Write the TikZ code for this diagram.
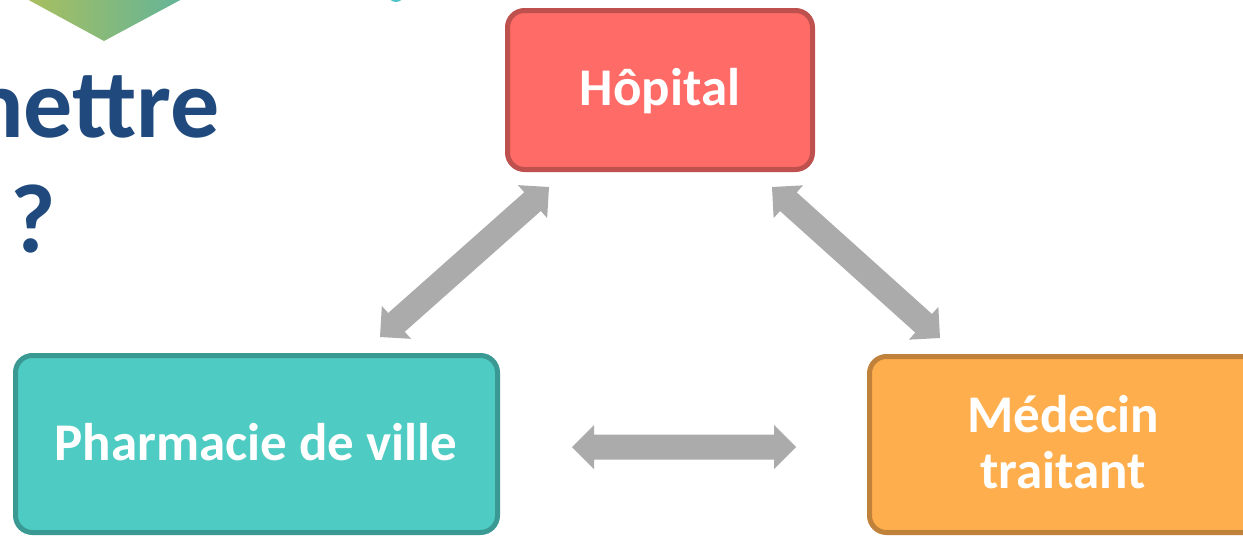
\documentclass[tikz,border=0pt]{standalone}
\usepackage{fontspec}
\setmainfont{Carlito}
\usetikzlibrary{calc}
\definecolor{hopfill}{HTML}{FF6B66}
\definecolor{hopdraw}{HTML}{BE504D}
\definecolor{phfill}{HTML}{4ECBC2}
\definecolor{phdraw}{HTML}{3A9A93}
\definecolor{medfill}{HTML}{FFAE4D}
\definecolor{meddraw}{HTML}{C0813A}
\definecolor{arrowgray}{HTML}{ABABAB}
\definecolor{titleblue}{HTML}{204A7D}
\definecolor{gleft}{HTML}{AABF5E}
\definecolor{gright}{HTML}{62B499}
\definecolor{tealdot}{HTML}{4CC3C8}
\newcommand{\hw}{22pt}
\newcommand{\sw}{12.5pt}
\newcommand{\hl}{22pt}
\newcommand{\dblarrow}[2]{%
  \coordinate (p1) at ($(#1)!\hl!(#2)$);
  \coordinate (p2) at ($(#2)!\hl!(#1)$);
  \fill[conn] (#1) -- ($(p1)!\hw!90:(#2)$) -- ($(p1)!\sw!90:(#2)$)
    -- ($(p2)!\sw!-90:(#1)$) -- ($(p2)!\hw!-90:(#1)$) -- (#2)
    -- ($(p2)!\hw!90:(#1)$) -- ($(p2)!\sw!90:(#1)$)
    -- ($(p1)!\sw!-90:(#2)$) -- ($(p1)!\hw!-90:(#2)$) -- cycle;}
\tikzset{
  box/.style={draw, rectangle, rounded corners=17pt, line width=5pt, inner sep=0pt},
  label/.style={text=white, font=\fontsize{53}{56}\selectfont\bfseries, inner sep=0pt, anchor=base},
  title/.style={text=titleblue, font=\fontsize{98}{110}\selectfont\bfseries, inner sep=0pt},
  conn/.style={fill=arrowgray}
}
\begin{document}
\begin{tikzpicture}[x=1pt,y=-1pt]
\useasboundingbox (0,0) rectangle (1243,536);
\clip (0,0) rectangle (1243,536);
\fill[white] (0,0) rectangle (1243,536);
% decorative top shapes
\shade[left color=gleft, right color=gright] (25,-2) -- (184,-2) -- (104,41) -- cycle;
\fill[tealdot] (396,-6) circle (8);
% title fragments
\node[title, anchor=base east] (t1) at (220,137) {mettre};
\node[title, anchor=base west] (t2) at (10,252) {?};
% boxes
\node[box, fill=hopfill, draw=hopdraw, minimum width=305pt, minimum height=159pt] (hop) at (660,90) {};
\node[box, fill=phfill, draw=phdraw, minimum width=482pt, minimum height=177pt] (pha) at (256.5,444) {};
\node[box, fill=medfill, draw=meddraw, minimum width=430pt, minimum height=176pt] (med) at (1084.5,444.5) {};
% labels
\node[label] (hopt) at (660,105) {Hôpital};
\node[label] (phat) at (256,460) {Pharmacie de ville};
\node[label] (medt1) at (1063,432) {Médecin};
\node[label] (medt2) at (1063,488) {traitant};
% connectors
\coordinate (pa) at (380,337);
\coordinate (ha) at (549,187);
\coordinate (hb) at (772,187);
\coordinate (ma) at (940,338);
\coordinate (pb) at (572,447);
\coordinate (mb) at (796,447);
\dblarrow{pa}{ha}
\dblarrow{hb}{ma}
\dblarrow{pb}{mb}
\end{tikzpicture}
\end{document}
